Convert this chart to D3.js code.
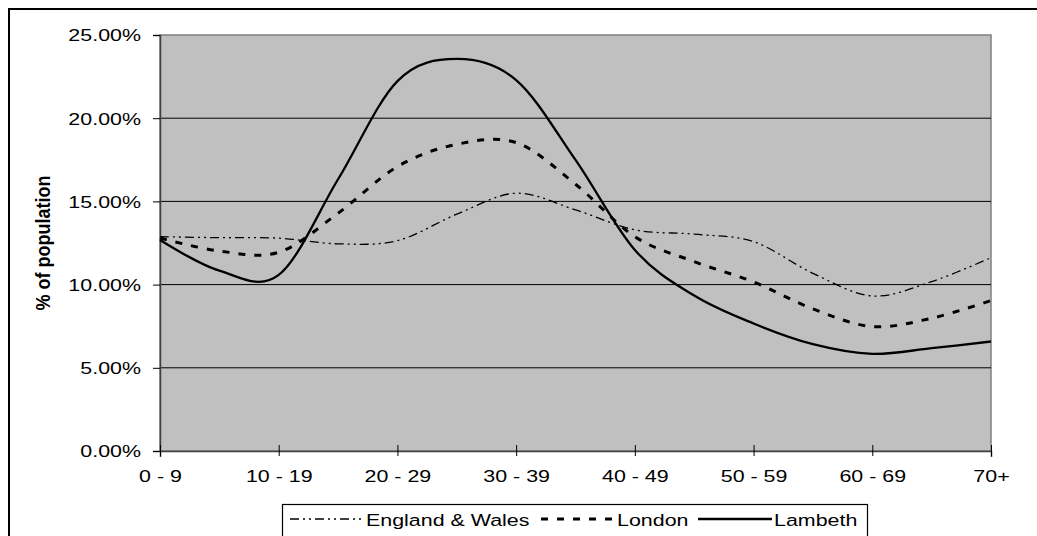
<!DOCTYPE html>
<html>
<head>
<meta charset="utf-8">
<script src="https://cdn.jsdelivr.net/npm/d3@7"></script>
<style>
  html, body { margin: 0; padding: 0; background: #fff; }
  svg { display: block; font-family: "Liberation Sans", Arial, sans-serif; }
</style>
</head>
<body>
<div id="chart"></div>
<script>
// age bands shown on the axis, values read at every half band
const tickLabels = ["0 - 9", "10 - 19", "20 - 29", "30 - 39", "40 - 49", "50 - 59", "60 - 69", "70+"];
const englandWales = [12.88, 12.82, 12.79, 12.45, 12.64, 14.23, 15.49, 14.49, 13.29, 13.03, 12.58, 10.68, 9.32, 10.18, 11.62];
const london       = [12.80, 12.02, 11.94, 14.29, 17.09, 18.43, 18.53, 16.03, 12.88, 11.38, 10.16, 8.54, 7.48, 7.98, 9.04];
const lambeth      = [12.68, 10.84, 10.58, 16.33, 22.23, 23.56, 22.29, 17.49, 12.08, 9.34, 7.66, 6.42, 5.84, 6.18, 6.58];
const yTicks = [0, 5, 10, 15, 20, 25];
const seriesNames = ["England & Wales", "London", "Lambeth"];

const width = 1037, height = 536;
const plot = { left: 160, right: 991, top: 35, bottom: 451 };
const sx = 1.26; // the original text is drawn stretched sideways

const svg = d3.select("#chart").append("svg")
  .attr("width", width)
  .attr("height", height);

// chart frame (runs off the right and bottom edge)
svg.append("rect")
  .attr("x", 9).attr("y", 9)
  .attr("width", 1040).attr("height", 540)
  .attr("fill", "#fff")
  .attr("stroke", "#000")
  .attr("stroke-width", 2);

const x = d3.scaleLinear().domain([0, englandWales.length - 1]).range([plot.left, plot.right]);
const y = d3.scaleLinear().domain([0, 25]).range([plot.bottom, plot.top]);

// plot area
svg.append("rect")
  .attr("x", plot.left).attr("y", plot.top)
  .attr("width", plot.right - plot.left)
  .attr("height", plot.bottom - plot.top)
  .attr("fill", "#c0c0c0")
  .attr("stroke", "#808080")
  .attr("stroke-width", 1.5);

// gridlines
svg.append("g").attr("class", "grid")
  .selectAll("line")
  .data(yTicks.filter(d => d > 0 && d < 25))
  .join("line")
  .attr("x1", plot.left).attr("x2", plot.right)
  .attr("y1", d => y(d)).attr("y2", d => y(d))
  .attr("stroke", "#000")
  .attr("stroke-width", 1);

// y axis
const yAxis = svg.append("g")
  .attr("class", "axis y")
  .attr("transform", `translate(${plot.left},0)`)
  .call(d3.axisLeft(y).tickValues(yTicks).tickSize(7).tickFormat(d => d.toFixed(2) + "%"));
yAxis.select(".domain").attr("stroke", "#404040").attr("stroke-width", 1.5);
yAxis.selectAll(".tick line").attr("stroke", "#000");
yAxis.selectAll(".tick text")
  .attr("x", 0).attr("dy", "0.35em")
  .attr("transform", `translate(-19,0) scale(${sx},1)`)
  .attr("font-size", 17)
  .attr("fill", "#000");

// x axis
const xAxis = svg.append("g")
  .attr("class", "axis x")
  .attr("transform", `translate(0,${plot.bottom})`)
  .call(d3.axisBottom(x)
    .tickValues(d3.range(0, englandWales.length, 2))
    .tickFormat((d, i) => tickLabels[i]));
xAxis.select(".domain").attr("stroke", "#404040").attr("stroke-width", 1.5);
xAxis.selectAll(".tick line").attr("y1", -6).attr("y2", 5).attr("stroke", "#000");
xAxis.selectAll(".tick text")
  .attr("y", 31).attr("dy", 0)
  .attr("transform", `scale(${sx},1)`)
  .attr("font-size", 17)
  .attr("fill", "#000");

// y axis title
svg.append("text")
  .attr("transform", `translate(50,${(plot.top + plot.bottom) / 2}) rotate(-90) scale(1.2,1.3)`)
  .attr("text-anchor", "middle")
  .attr("font-size", 15)
  .attr("font-weight", "bold")
  .text("% of population");

// lines
const styles = [
  { data: englandWales, width: 1.3, dash: "9,4,2,4,2,4" },
  { data: london, width: 3, dash: "7,9" },
  { data: lambeth, width: 2.3, dash: null }
];
const line = d3.line()
  .x((d, i) => x(i))
  .y(d => y(d))
  .curve(d3.curveCatmullRom.alpha(0));

svg.append("g").attr("class", "lines")
  .selectAll("path")
  .data(styles)
  .join("path")
  .attr("d", d => line(d.data))
  .attr("fill", "none")
  .attr("stroke", "#000")
  .attr("stroke-width", d => d.width)
  .attr("stroke-dasharray", d => d.dash);

// legend
const legend = svg.append("g").attr("class", "legend");
legend.append("rect")
  .attr("x", 282.5).attr("y", 504.5)
  .attr("width", 585).attr("height", 45)
  .attr("fill", "#fff")
  .attr("stroke", "#000")
  .attr("stroke-width", 1.2);

const legendX = [290, 541, 698];
const sampleW = 74, legendY = 519;
styles.forEach((s, i) => {
  const g = legend.append("g").attr("transform", `translate(${legendX[i]},${legendY})`);
  g.append("line")
    .attr("x1", 0).attr("x2", sampleW)
    .attr("stroke", "#000")
    .attr("stroke-width", s.width)
    .attr("stroke-dasharray", s.dash);
  g.append("text")
    .attr("transform", `translate(${sampleW + 2},7) scale(${sx},1)`)
    .attr("font-size", 17)
    .text(seriesNames[i]);
});
</script>
</body>
</html>
